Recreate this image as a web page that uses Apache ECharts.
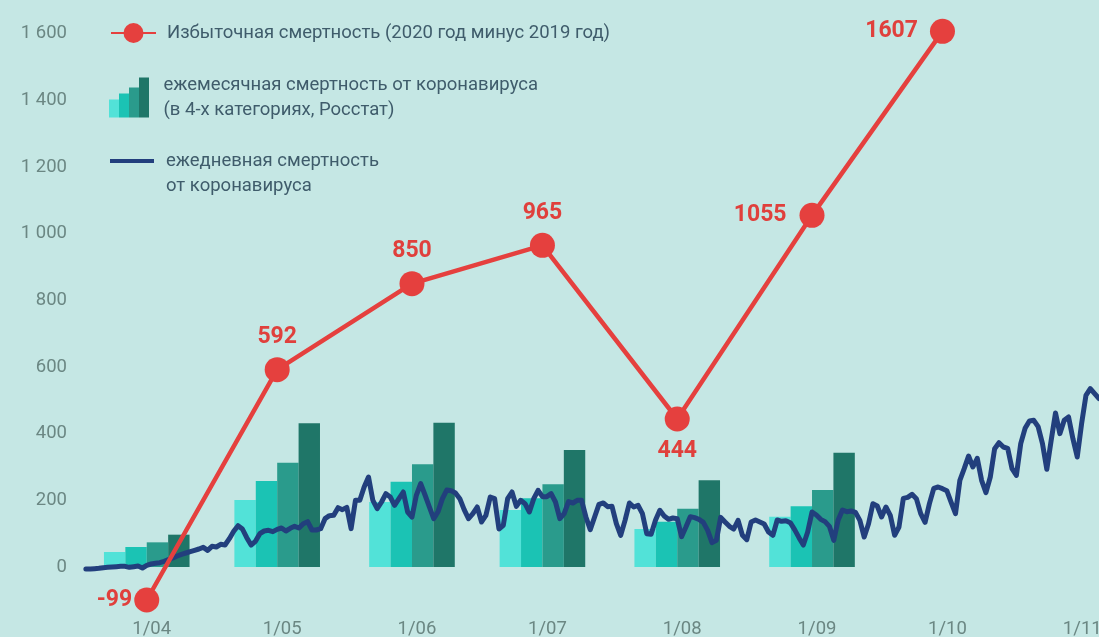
<!DOCTYPE html>
<html>
<head>
<meta charset="utf-8">
<script src="https://cdn.jsdelivr.net/npm/echarts@6/dist/echarts.min.js"></script>
<style>
html,body{margin:0;padding:0;background:#c5e7e4;}
#chart{width:1099px;height:637px;}
</style>
</head>
<body>
<div id="chart"></div>
<script>
// ---- data ----
// x positions are days counted from 1 April 2020
const monthDays = [0, 30, 61, 91, 122, 153, 183, 214];
const monthLabels = ['1/04', '1/05', '1/06', '1/07', '1/08', '1/09', '1/10', '1/11'];

const yTickValues = [0, 200, 400, 600, 800, 1000, 1200, 1400, 1600];
const yTickLabels = ['0', '200', '400', '600', '800', '1 000', '1 200', '1 400', '1 600'];

// excess mortality (2020 minus 2019), at month starts
const excessDays = [0, 30, 61, 91, 122, 153, 183];
const excessValues = [-99, 592, 850, 965, 444, 1055, 1607];

// monthly coronavirus deaths, 4 Rosstat categories
const monthlyDays = [0, 30, 61, 91, 122, 153];
const monthlyCat1 = [45, 201, 195, 171, 114, 151];
const monthlyCat2 = [60, 258, 256, 206, 136, 182];
const monthlyCat3 = [74, 313, 308, 248, 175, 231];
const monthlyCat4 = [97, 431, 433, 351, 260, 343];

// daily coronavirus deaths, starting 18 March (day -14)
const dailyStartDay = -14;
const dailyValues = [
  -6,-6,-5,-4,-2,-1,0,1,2,2,-1,1,3,-3,
  5,9,11,13,17,22,27,33,38,42,46,50,54,59,50,62,60,68,66,85,107,124,114,88,66,77,100,108,110,106,
  113,117,108,116,122,117,130,136,111,111,115,145,154,155,178,172,179,115,200,200,240,270,200,175,195,220,210,185,205,225,165,
  150,215,250,216,180,145,166,205,231,229,222,205,172,145,160,180,135,155,210,205,114,125,205,225,182,200,190,165,205,230,
  211,211,220,195,145,160,196,192,200,200,150,112,150,188,192,181,182,130,95,140,192,180,185,160,100,98,140,170,153,143,147,
  145,91,120,151,148,143,134,110,73,80,149,135,122,114,140,95,82,135,141,135,129,105,95,141,137,139,133,112,88,66,105,
  165,156,143,136,122,80,140,171,166,168,164,140,90,130,190,183,150,180,155,95,120,206,209,218,205,160,134,190,236,240,
  235,229,194,160,260,295,333,300,326,260,223,270,355,373,360,356,295,275,370,416,438,440,421,370,293,380,462,400,440,450,385,
  330,430,515,535,520,505
];

const nameExcess = 'Избыточная смертность (2020 год минус 2019 год)';
const nameMonthly = 'ежемесячная смертность от коронавируса\n(в 4-х категориях, Росстат)';
const nameDaily = 'ежедневная смертность\nот коронавируса';
const barColors = ['#52e2d8', '#1bc3b4', '#2a9b8c', '#1f7668'];

// ---- build ----
const pair = (xs, ys) => xs.map((x, i) => [x, ys[i]]);
const dailyData = dailyValues.map((v, i) => [dailyStartDay + i, v]);
const FONT = 'Roboto';
const labelMap = {};
monthDays.forEach((d, i) => labelMap[d] = monthLabels[i]);
const yLabelMap = {};
yTickValues.forEach((v, i) => yLabelMap[v] = yTickLabels[i]);

const barSeries = [monthlyCat1, monthlyCat2, monthlyCat3, monthlyCat4].map((vals, i) => ({
  type: 'bar',
  name: i === 0 ? nameMonthly : 'cat' + (i + 1),
  data: pair(monthlyDays, vals),
  barWidth: 21.4,
  barGap: '0%',
  itemStyle: { color: barColors[i] },
  z: 1
}));

const legendText = { fontFamily: FONT, fontSize: 18.5, color: '#3f5c6b', lineHeight: 25 };

const option = {
  backgroundColor: '#c5e7e4',
  animation: false,
  grid: { left: 75, right: 0, top: 17, bottom: 20, containLabel: false, outerBoundsMode: 'none' },
  xAxis: {
    type: 'value', min: -16.5, max: 219,
    axisLine: { show: false }, axisTick: { show: false }, splitLine: { show: false },
    axisLabel: {
      customValues: monthDays,
      formatter: v => labelMap[v] || '',
      fontFamily: FONT, fontSize: 18.5, color: '#6b8783',
      margin: 3, padding: [0, 0, 0, 10]
    }
  },
  yAxis: {
    type: 'value', min: -150, max: 1650,
    axisLine: { show: false }, axisTick: { show: false }, splitLine: { show: false },
    axisLabel: {
      customValues: yTickValues,
      formatter: v => yLabelMap[v] !== undefined ? yLabelMap[v] : '',
      fontFamily: FONT, fontSize: 18.5, color: '#6b8783',
      margin: 8, padding: [0, 0, 10, 0]
    }
  },
  legend: [
    {
      left: 110, top: 20.5, padding: 0, itemWidth: 45, itemHeight: 25,
      data: [{ name: nameExcess }],
      textStyle: Object.assign({}, legendText, { padding: [0, 0, 0, 6] }),
      selectedMode: false
    },
    {
      left: 109, top: 72.5, padding: 0, itemWidth: 43, itemHeight: 40,
      data: [{
        name: nameMonthly,
        icon: 'path://M0,22 h10 v18 h-10 Z M10,16 h10 v24 h-10 Z M20,10 h10 v30 h-10 Z M30,0 h10 v40 h-10 Z',
        itemStyle: {
          color: {
            type: 'linear', x: 0, y: 0, x2: 1, y2: 0,
            colorStops: [
              { offset: 0, color: barColors[0] }, { offset: 0.25, color: barColors[0] },
              { offset: 0.25, color: barColors[1] }, { offset: 0.5, color: barColors[1] },
              { offset: 0.5, color: barColors[2] }, { offset: 0.75, color: barColors[2] },
              { offset: 0.75, color: barColors[3] }, { offset: 1, color: barColors[3] }
            ]
          }
        }
      }],
      textStyle: Object.assign({}, legendText, { padding: [0, 0, 0, 8] }),
      selectedMode: false
    },
    {
      left: 110, top: 123.5, padding: 0, itemWidth: 44, itemHeight: 4,
      data: [{ name: nameDaily, icon: 'rect' }],
      formatter: n => '\n' + n,
      textStyle: Object.assign({}, legendText, { padding: [0, 0, 0, 7] }),
      selectedMode: false
    }
  ],
  series: [
    ...barSeries,
    {
      type: 'line',
      name: nameDaily,
      data: dailyData,
      showSymbol: false,
      symbol: 'none',
      lineStyle: { color: '#223f7d', width: 5, join: 'round', cap: 'round' },
      itemStyle: { color: '#223f7d' },
      z: 2
    },
    {
      type: 'line',
      name: nameExcess,
      symbol: 'circle',
      symbolSize: 25,
      lineStyle: { color: '#e5403e', width: 4.5 },
      itemStyle: { color: '#e5403e' },
      label: {
        show: true,
        fontFamily: FONT, fontSize: 23, fontWeight: 'bold', color: '#e0403c',
        position: 'top', distance: 8
      },
      data: pair(excessDays, excessValues).map((p, i) => {
        const pos = ['left', 'top', 'top', 'top', 'bottom', 'left', 'left'][i];
        const dist = [2, 8, 8, 8, 8, 13, 12][i];
        return { value: p, label: { position: pos, distance: dist } };
      }),
      z: 3
    }
  ]
};

const chart = echarts.init(document.getElementById('chart'), null, { renderer: 'canvas' });
chart.setOption(option);
</script>
</body>
</html>
